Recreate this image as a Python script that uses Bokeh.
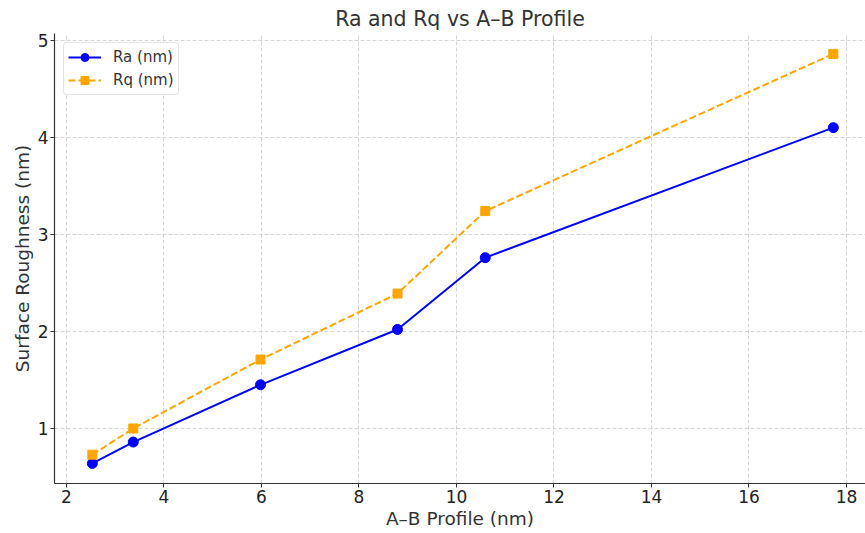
from bokeh.plotting import figure
from bokeh.models import FixedTicker, Range1d, Legend, LegendItem
from bokeh.embed import file_html
from bokeh.resources import INLINE

ab_profile = [2.53, 3.37, 5.98, 8.79, 10.59, 17.73]
ra_nm = [0.64, 0.86, 1.45, 2.02, 2.76, 4.10]
rq_nm = [0.73, 1.00, 1.71, 2.39, 3.24, 4.86]
x_ticks = [2, 4, 6, 8, 10, 12, 14, 16, 18]
y_ticks = [1, 2, 3, 4, 5]

FONT = "DejaVu Sans"

p = figure(width=865, height=533, output_backend="svg", toolbar_location=None,
           x_range=Range1d(1.754, 18.39), y_range=Range1d(0.433, 5.07),
           min_border_left=54, min_border_right=0, min_border_bottom=50, min_border_top=33)

p.title.text = "Ra and Rq vs A\u2013B Profile"
p.title.align = "center"
p.title.text_font = FONT
p.title.text_font_size = "20.5px"
p.title.text_font_style = "normal"
p.title.text_color = "#333333"
p.title.standoff = 5

p.outline_line_color = None
p.background_fill_color = "white"

for ax in (p.xaxis, p.yaxis):
    ax.axis_line_color = "#333333"
    ax.axis_line_width = 1.2
    ax.major_tick_line_color = "#333333"
    ax.major_tick_out = 4
    ax.major_tick_in = 0
    ax.minor_tick_line_color = None
    ax.major_label_text_font = FONT
    ax.major_label_text_font_size = "17px"
    ax.major_label_text_color = "#222222"
    ax.major_label_standoff = 2
    ax.axis_label_text_font = FONT
    ax.axis_label_text_font_size = "18.5px"
    ax.axis_label_text_font_style = "normal"
    ax.axis_label_text_color = "#333333"
    ax.axis_label_standoff = 2

p.xaxis.ticker = FixedTicker(ticks=x_ticks)
p.yaxis.ticker = FixedTicker(ticks=y_ticks)
p.xaxis.axis_label = "A\u2013B Profile (nm)"
p.yaxis.axis_label = "Surface Roughness (nm)"

p.grid.grid_line_color = "#cccccc"
p.grid.grid_line_dash = "4 2"
p.grid.grid_line_width = 0.8

ra_line = p.line(ab_profile, ra_nm, line_color="#0000ff", line_width=2)
ra_pts = p.scatter(ab_profile, ra_nm, marker="circle", size=10, fill_color="#0000ff", line_color="#0000ff")
rq_line = p.line(ab_profile, rq_nm, line_color="#ffa500", line_width=2, line_dash="7 3")
rq_pts = p.scatter(ab_profile, rq_nm, marker="square", size=9, fill_color="#ffa500", line_color="#ffa500")

legend = Legend(items=[LegendItem(label="Ra (nm)", renderers=[ra_line, ra_pts]),
                       LegendItem(label="Rq (nm)", renderers=[rq_line, rq_pts])],
                location="top_left")
legend.label_text_font = FONT
legend.label_text_font_size = "15px"
legend.label_text_color = "#333333"
legend.border_line_color = "#cccccc"
legend.border_radius = 4
legend.margin = 9
legend.padding = 4
legend.spacing = 3
legend.label_standoff = 12
legend.glyph_width = 33
legend.glyph_height = 20
legend.label_height = 20
p.add_layout(legend)

open("out.html", "w").write(file_html(p, INLINE))
